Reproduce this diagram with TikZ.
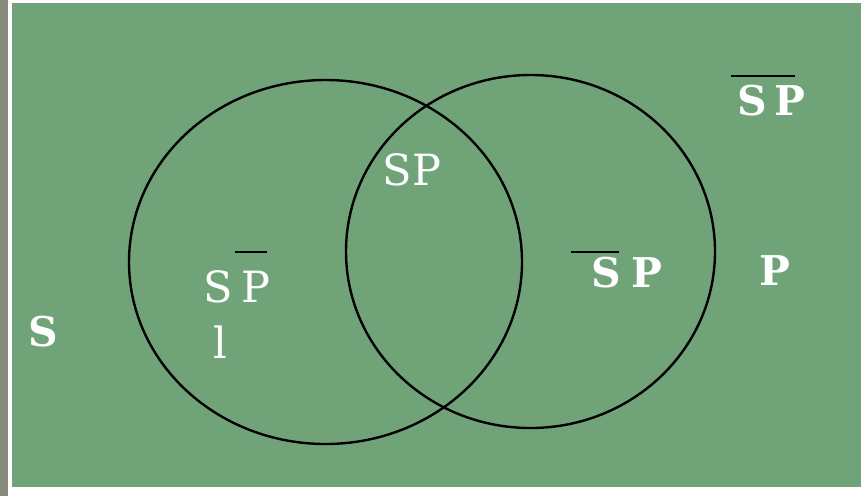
\documentclass[tikz,border=0pt]{standalone}
\usepackage{fontspec}
\setmainfont{DejaVu Serif}
\definecolor{panel}{RGB}{112,164,120}
\definecolor{edgebar}{RGB}{134,138,122}
\begin{document}
\begin{tikzpicture}[x=1pt,y=-1pt,
  reglabel/.style={text=white,font=\fontsize{43}{43}\selectfont,anchor=base,inner sep=0pt},
  boldlabel/.style={text=white,font=\fontsize{41}{41}\selectfont\bfseries,anchor=base,inner sep=0pt},
  setline/.style={black,line width=2.4pt},
  barline/.style={black,line width=2.8pt}]
% canvas and background panels
\useasboundingbox (0,0) rectangle (861,496);
\fill[white] (0,0) rectangle (861,496);
\fill[edgebar] (0,0) rectangle (8,496);
\fill[panel] (12,3) rectangle (861,487);
% the two sets
\draw[setline] (325.5,262) ellipse [x radius=196.5, y radius=182];
\draw[setline] (530.5,251.5) ellipse [x radius=184.5, y radius=176.5];
% outside label
\node[boldlabel] (sout) at (43,346) {S};
% intersection
\node[reglabel] (sp) at (412,185) {SP};
% left-only region
\node[reglabel] (ls) at (218,302) {S};
\node[reglabel] (lp) at (256,302) {P};
\coordinate (lbarA) at (235,252);
\coordinate (lbarB) at (267,252);
\draw[barline] (lbarA) -- (lbarB);
\node[reglabel] (lone) at (220,358) {l};
% right-only region
\node[boldlabel] (rs) at (606,287) {S};
\node[boldlabel] (rp) at (647,287) {P};
\coordinate (rbarA) at (571,252);
\coordinate (rbarB) at (619,252);
\draw[barline] (rbarA) -- (rbarB);
% outside both
\node[boldlabel] (ts) at (752,115) {S};
\node[boldlabel] (tp) at (790,115) {P};
\coordinate (tbarA) at (731,76);
\coordinate (tbarB) at (795,76);
\draw[barline] (tbarA) -- (tbarB);
% predicate label
\node[boldlabel] (pout) at (775,285) {P};
\end{tikzpicture}
\end{document}
